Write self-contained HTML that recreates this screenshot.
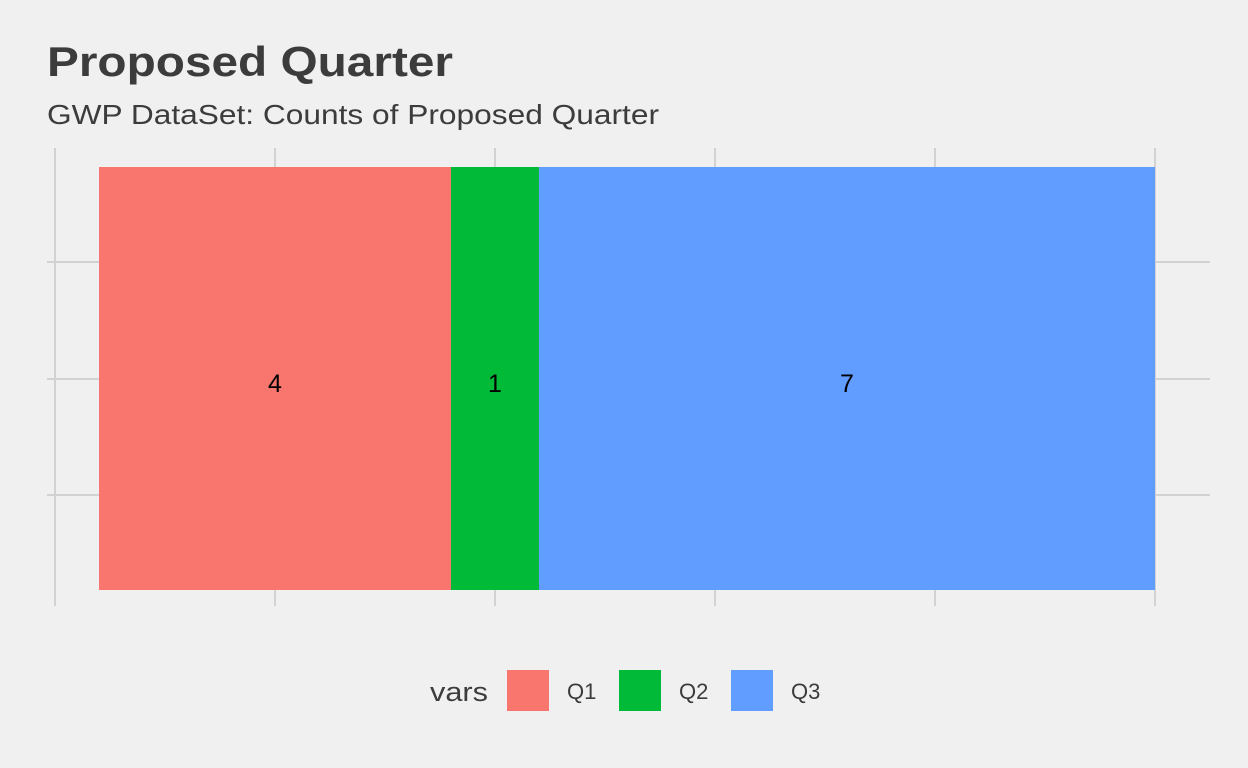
<!DOCTYPE html>
<html><head><meta charset="utf-8"><style>
body{margin:0;background:#f0f0f0;font-family:"Liberation Sans",sans-serif;}
svg{display:block}
</style></head><body>
<svg width="1248" height="768">
<rect width="1248" height="768" fill="#f0f0f0"/>
<text x="47" y="76" font-size="42" font-weight="bold" fill="#3c3c3c" textLength="406" lengthAdjust="spacingAndGlyphs">Proposed Quarter</text>
<text x="47" y="124" font-size="28" fill="#3c3c3c" textLength="612" lengthAdjust="spacingAndGlyphs">GWP DataSet: Counts of Proposed Quarter</text>
<g id="grid"></g>
<g id="bars"></g>
<g id="legend"></g>
</svg>
<script>
const categories=["Q1","Q2","Q3"];
const counts=[4,1,7];
const colors=["#f8766d","#00ba38","#619cff"];
const ns="http://www.w3.org/2000/svg";
const x0=99,pxPerUnit=88;
function xs(v){return x0+v*pxPerUnit;}
function mk(t,a,p){const e=document.createElementNS(ns,t);for(const k in a)e.setAttribute(k,a[k]);p.appendChild(e);return e;}
const grid=document.getElementById('grid');
[55,275,495,715,935,1155].forEach(x=>{const l=mk('line',{x1:x,x2:x,y1:148,y2:606,stroke:'#d2d2d2','stroke-width':2},grid);

});
[262,379,495].forEach(y=>{const l=mk('line',{x1:47,x2:1210,y1:y,y2:y,stroke:'#d2d2d2','stroke-width':2},grid);

});
const bars=document.getElementById('bars');
let cum=0;
counts.forEach((c,i)=>{
const r=mk('rect',{x:xs(cum),y:167,width:xs(cum+c)-xs(cum),height:423,fill:colors[i]},bars);


const t=mk('text',{x:(xs(cum)+xs(cum+c))/2,y:392,'font-size':25,'text-anchor':'middle',fill:'#000'},bars);
t.textContent=c;


cum+=c;});
const lg=document.getElementById('legend');
const lt=mk('text',{x:430,y:701,'font-size':27,fill:'#3c3c3c',textLength:58,lengthAdjust:'spacingAndGlyphs'},lg);lt.textContent='vars';


categories.forEach((c,i)=>{const x=507+i*112;
const r=mk('rect',{x:x,y:670,width:42,height:41,fill:colors[i]},lg);


const t=mk('text',{x:x+60,y:699,'font-size':22,fill:'#3c3c3c'},lg);t.textContent=c;

});
</script>
</body></html>
